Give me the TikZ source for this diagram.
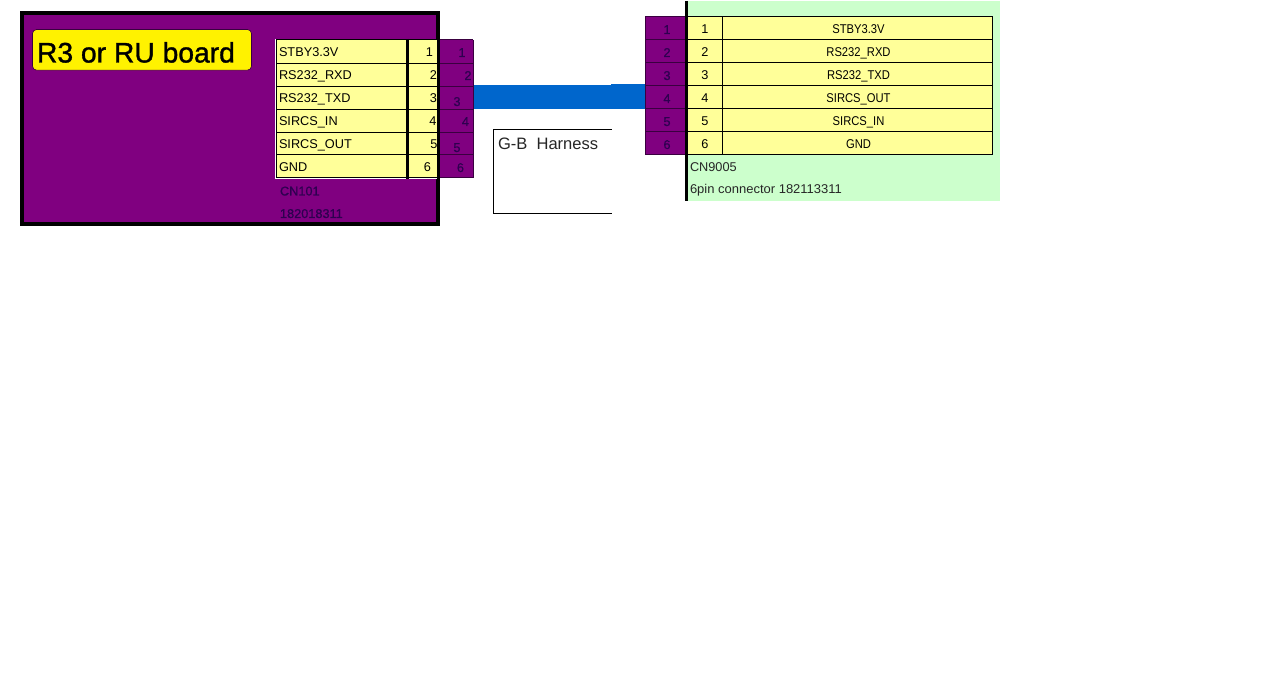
\documentclass[tikz,border=0pt]{standalone}
\usepackage{fontspec}
\setmainfont{Liberation Sans}
\newfontfamily\titlefont[FakeBold=1.2]{Liberation Sans}
\newfontfamily\dimfont[FakeBold=.8]{Liberation Sans}
\definecolor{boardpurple}{HTML}{800080}
\definecolor{dimtext}{HTML}{2E0050}
\definecolor{celly}{HTML}{FFFF99}
\definecolor{boardgreen}{HTML}{CCFFCC}
\definecolor{harness}{HTML}{0066CC}
\definecolor{pinline}{HTML}{3A0040}
\tikzset{
  every node/.style={inner sep=0pt,outer sep=0pt,font=\fontsize{9.55pt}{11pt}\selectfont},
  ltxt/.style={anchor=base west},
  rtxt/.style={anchor=base east},
  ctr/.style={anchor=base},
  dim/.style={text=dimtext,font=\fontsize{9.55pt}{11pt}\selectfont\dimfont},
  tight/.style={xscale=.88,transform shape},
  rowline/.style={draw=black,line width=.75pt},
  pinrow/.style={draw=pinline,line width=.75pt}
}
\begin{document}
\begin{tikzpicture}[x=.75pt,y=-.75pt]
\useasboundingbox (0,0) rectangle (1285,673);
\fill[white] (0,0) rectangle (1285,673);
% left board
\node[draw=black,fill=boardpurple,line width=3pt,minimum width=312pt,minimum height=158.25pt,anchor=north west] (board) at (22,13) {};
\node[draw=pinline,fill=yellow,line width=.5pt,rounded corners=3pt,minimum width=164.25pt,minimum height=30.5pt,anchor=north west] (title) at (32.5,29.5) {};
\node[ltxt,font=\fontsize{21.2pt}{24pt}\selectfont\titlefont] (titletext) at (37,62.5) {R3 or RU board};
% harness connector and label box
\coordinate (hl) at (473,97);
\coordinate (hr) at (645,97);
\draw[harness,line width=18.5pt] (hl) -- (hr);
\fill[harness] (611,84) rectangle (645,86);
\coordinate (hnw) at (611.5,129.5);
\coordinate (hsw) at (493.5,129.5);
\coordinate (hbl) at (493.5,213.5);
\coordinate (hbr) at (611.5,213.5);
\draw[black,line width=.75pt] (hnw) -- (hsw) -- (hbl) -- (hbr);
\node[ltxt,font=\fontsize{12.4pt}{14pt}\selectfont,text=black!85] (hlabel) at (498,150) {G-B\ \ Harness};
% left pin block
\fill[boardpurple] (438,40) rectangle (473,178);
\foreach \y in {40,63.3,86.3,109.3,132.3,154.6,178}{\draw[pinrow] (438,\y) -- (473,\y);}
\draw[pinrow] (473,40) -- (473,178);
% left table
\fill[white] (275,38.8) rectangle (438,179);
\fill[celly] (276.5,40) rectangle (437,178);
\foreach \y in {40,63.3,86.3,109.3,132.3,154.6,178}{\draw[rowline] (276,\y) -- (437,\y);}
\draw[rowline] (276,40) -- (276,178);
\draw[black,line width=2.25pt] (407,39) -- (407,179);
\draw[black,line width=2.25pt] (438,12) -- (438,226);
\foreach \n/\t/\y in {a/STBY3.3V/57,b/RS232\_RXD/80,c/RS232\_TXD/103,d/SIRCS\_IN/126,e/SIRCS\_OUT/149,f/GND/172}
  \node[ltxt] (L\n) at (279,\y) {\t};
\foreach \n/\t/\x/\y in {a/1/433/57,b/2/437/80,c/3/437/103,d/4/436.5/126,e/5/437.5/149,f/6/431/172}
  \node[rtxt] (N\n) at (\x,\y) {\t};
\foreach \n/\t/\x/\y in {a/1/465.5/57,b/2/471.5/80,c/3/460.5/106,d/4/469/126,e/5/460.5/152,f/6/464/172}
  \node[rtxt,dim] (P\n) at (\x,\y) {\t};
\node[ltxt,dim] (cn101) at (280,195.5) {CN101};
\node[ltxt,dim] (pn101) at (280,218) {182018311};
% right board
\fill[boardgreen] (687,1) rectangle (1000,201);
\fill[celly] (688,16.3) rectangle (992,154.5);
\fill[boardpurple] (645,16.3) rectangle (686,155);
\foreach \y in {16.3,39.3,62.3,85.3,108.3,131.3,154.5}{
  \draw[rowline] (688,\y) -- (993,\y);
  \draw[pinrow] (645,\y) -- (686,\y);
}
\draw[pinrow] (645,16.3) -- (645,155);
\draw[rowline] (722.5,16.3) -- (722.5,155.5);
\draw[rowline] (992,16.3) -- (992,155.5);
\draw[black,line width=2.2pt] (686.5,1) -- (686.5,201);
\foreach \n/\t/\y in {a/1/34,b/2/57,c/3/80,d/4/103,e/5/126,f/6/149}{
  \node[ctr,dim] (Q\n) at (667,\y) {\t};
  \node[ctr] (M\n) at (705,\y) {\t};
}
\foreach \n/\t/\y in {a/STBY3.3V/34,b/RS232\_RXD/57,c/RS232\_TXD/80,d/SIRCS\_OUT/103,e/SIRCS\_IN/126,f/GND/149}
  \node[ctr,tight] (R\n) at (858.5,\y) {\t};
\node[ltxt,text=black!85] (cn9005) at (690,172) {CN9005};
\node[ltxt,text=black!85,xscale=1.02,transform shape] (pn9005) at (690,194) {6pin connector 182113311};
\end{tikzpicture}
\end{document}
